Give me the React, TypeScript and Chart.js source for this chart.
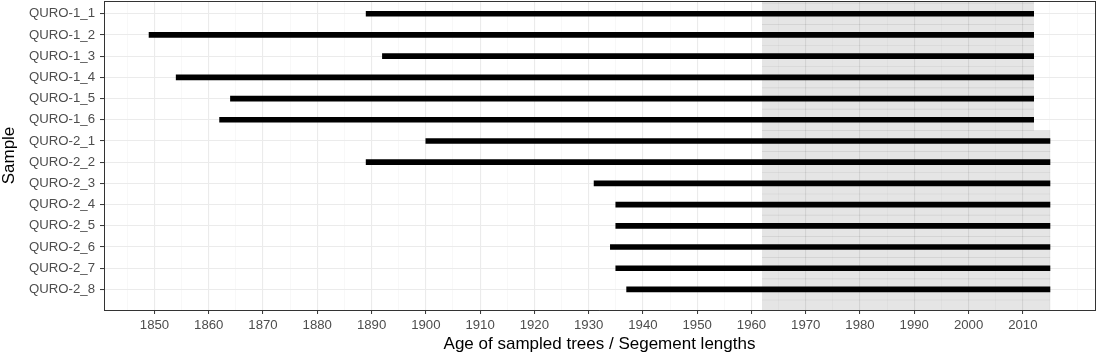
import React, { useEffect, useRef } from "react";
import { Chart, registerables } from "chart.js";

Chart.register(...registerables);

const samples = [
  "QURO-1_1", "QURO-1_2", "QURO-1_3", "QURO-1_4", "QURO-1_5", "QURO-1_6",
  "QURO-2_1", "QURO-2_2", "QURO-2_3", "QURO-2_4", "QURO-2_5", "QURO-2_6", "QURO-2_7", "QURO-2_8",
];
const startYears = [1889, 1849, 1892, 1854, 1864, 1862, 1900, 1889, 1931, 1935, 1935, 1934, 1935, 1937];
const endYears = [2012, 2012, 2012, 2012, 2012, 2012, 2015, 2015, 2015, 2015, 2015, 2015, 2015, 2015];
const shadeStart = 1962;
const majorTicks = [1850, 1860, 1870, 1880, 1890, 1900, 1910, 1920, 1930, 1940, 1950, 1960, 1970, 1980, 1990, 2000, 2010];
const minorTicks = [1845, 1855, 1865, 1875, 1885, 1895, 1905, 1915, 1925, 1935, 1945, 1955, 1965, 1975, 1985, 1995, 2005, 2015, 2020];
const xTitle = "Age of sampled trees / Segement lengths";
const yTitle = "Sample";

export default function App() {
  const ref = useRef<HTMLCanvasElement | null>(null);

  useEffect(() => {
    document.body.style.margin = "0";
    const canvas = ref.current;
    if (!canvas) return;
    const family = "'Liberation Sans', Arial, sans-serif";
    Chart.defaults.font.family = family;

    const segData = samples.map((_, i) => ({ x: [startYears[i], endYears[i]], y: i }));
    // shading rows extend one row beyond each end so the band fills the panel
    const shadeRows = [-1, ...samples.map((_, i) => i), samples.length];
    const shadeData = shadeRows.map((r) => {
      const idx = Math.min(Math.max(r, 0), samples.length - 1);
      return { x: [shadeStart, endYears[idx]], y: r };
    });

    const allTicks = [...majorTicks, ...minorTicks].sort((a, b) => a - b);
    const isMajor = (v: number) => majorTicks.includes(v);
    const dataMin = Math.min(...startYears);
    const dataMax = Math.max(...endYears);
    const pad = (dataMax - dataMin) * 0.05;
    const zeroPad = (scale: any) => {
      scale.paddingTop = 0;
      scale.paddingBottom = 0;
      scale.paddingLeft = 0;
      scale.paddingRight = 0;
    };

    const chart = new Chart(canvas, {
      type: "bar",
      data: {
        datasets: [
          {
            label: "segments",
            data: segData as any,
            backgroundColor: "#000000",
            borderWidth: 0,
            barThickness: 5,
            grouped: false,
            order: 0,
            xAxisID: "x",
            yAxisID: "y",
          } as any,
          {
            label: "shade",
            data: shadeData as any,
            backgroundColor: "rgba(0,0,0,0.1)",
            borderWidth: 0,
            barPercentage: 1,
            categoryPercentage: 1,
            grouped: false,
            order: 1,
            xAxisID: "x",
            yAxisID: "y",
          } as any,
        ],
      },
      options: {
        indexAxis: "y",
        animation: false,
        responsive: false,
        maintainAspectRatio: false,
        layout: { padding: { top: 1, right: 10, bottom: 0, left: 0 } },
        plugins: { legend: { display: false }, tooltip: { enabled: false } },
        scales: {
          x: {
            type: "linear",
            position: "bottom",
            offset: false,
            min: dataMin - pad,
            max: dataMax + pad,
            afterBuildTicks: (scale: any) => {
              scale.ticks = allTicks.map((v) => ({ value: v }));
            },
            afterFit: (scale: any) => {
              scale.height = 46;
              zeroPad(scale);
            },
            ticks: {
              autoSkip: false,
              maxRotation: 0,
              padding: 3,
              color: "#4D4D4D",
              font: { size: 13.2, family },
              callback: (v: any) => (isMajor(Number(v)) ? String(v) : ""),
            },
            grid: {
              offset: false,
              color: (ctx: any) => (isMajor(ctx.tick?.value) ? "#EBEBEB" : "#F5F5F5"),
              lineWidth: (ctx: any) => (isMajor(ctx.tick?.value) ? 1.1 : 0.7),
              tickColor: (ctx: any) => (isMajor(ctx.tick?.value) ? "#333333" : "rgba(0,0,0,0)"),
              tickLength: 4,
              tickWidth: 1,
            },
            border: { color: "#333333", width: 1 },
            title: {
              display: true,
              text: xTitle,
              color: "#000000",
              font: { size: 17, family, lineHeight: 1.1 },
              padding: { top: 0, bottom: 2.6 },
            },
          },
          y: {
            type: "linear",
            position: "left",
            reverse: true,
            offset: false,
            min: -0.6,
            max: samples.length - 1 + 0.97,
            afterBuildTicks: (scale: any) => {
              scale.ticks = samples.map((_, i) => ({ value: i }));
            },
            afterFit: (scale: any) => {
              scale.width = 104;
              zeroPad(scale);
            },
            ticks: {
              autoSkip: false,
              padding: 5,
              color: "#4D4D4D",
              font: { size: 13.2, family },
              callback: (v: any) => samples[Number(v)] ?? "",
            },
            grid: {
              offset: false,
              color: "#EBEBEB",
              lineWidth: 1.1,
              tickColor: "#333333",
              tickLength: 4,
              tickWidth: 1,
            },
            border: { color: "#333333", width: 1 },
            title: {
              display: true,
              text: yTitle,
              color: "#000000",
              font: { size: 17, family, lineHeight: 1.1 },
              padding: { top: 0, bottom: 0 },
            },
          },
          x2: {
            type: "linear",
            position: "top",
            min: 0,
            max: 1,
            ticks: { display: false },
            grid: { display: false, drawTicks: false },
            border: { color: "#333333", width: 1 },
            afterFit: (scale: any) => {
              scale.height = 0;
              zeroPad(scale);
            },
          },
          y2: {
            type: "linear",
            position: "right",
            min: 0,
            max: 1,
            ticks: { display: false },
            grid: { display: false, drawTicks: false },
            border: { color: "#333333", width: 1 },
            afterFit: (scale: any) => {
              scale.width = 0;
              zeroPad(scale);
            },
          },
        },
      } as any,
    });

    return () => chart.destroy();
  }, []);

  return (
    <div style={{ width: 1105, height: 356 }}>
      <canvas ref={ref} width={1105} height={356} style={{ display: "block", width: 1105, height: 356 }} />
    </div>
  );
}
